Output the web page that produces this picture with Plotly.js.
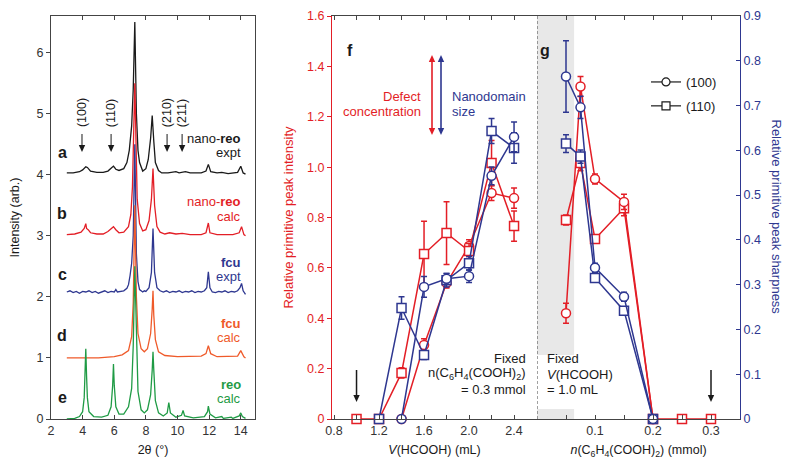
<!DOCTYPE html>
<html><head><meta charset="utf-8">
<script src="https://cdn.plot.ly/plotly-3.0.1.min.js"></script>
<style>body{margin:0;background:#fff}#chart{width:800px;height:468px}</style>
</head><body><div id="chart"></div>
<script>
// ---------- Panel a-e: PXRD patterns (2theta, intensity) ----------
const xrdA_x = [3.0,3.4,3.8,4.0,4.2,4.3,4.5,4.9,5.3,5.6,5.85,5.95,6.1,6.3,6.6,6.8,6.95,7.1,7.2,7.3,7.4,7.5,7.6,7.8,8.0,8.15,8.3,8.4,8.5,8.6,8.8,9.0,9.4,9.9,10.1,10.5,10.8,11.5,11.8,11.95,12.1,12.5,12.8,13.2,13.8,14.0,14.15,14.3];
const xrdA_y = [4.03,4.03,4.05,4.08,4.13,4.12,4.06,4.04,4.04,4.06,4.12,4.14,4.09,4.07,4.10,4.20,4.40,4.80,5.40,6.50,5.00,4.40,4.20,4.06,4.10,4.25,4.60,4.97,4.55,4.20,4.07,4.03,4.03,4.05,4.03,4.05,4.03,4.03,4.06,4.17,4.05,4.03,4.04,4.02,4.04,4.14,4.03,4.01];

const xrdB_x = [3.0,3.5,3.9,4.1,4.2,4.25,4.35,4.5,4.9,5.3,5.6,5.8,5.95,6.1,6.3,6.6,6.9,7.05,7.15,7.3,7.45,7.6,7.8,8.0,8.2,8.35,8.45,8.55,8.7,8.9,9.2,9.5,9.9,10.3,10.8,11.5,11.8,11.95,12.05,12.5,13.5,13.9,14.05,14.2,14.3];
const xrdB_y = [3.02,3.03,3.06,3.12,3.20,3.12,3.10,3.05,3.03,3.03,3.07,3.12,3.15,3.10,3.05,3.06,3.15,3.35,3.80,5.50,3.60,3.20,3.08,3.10,3.25,3.60,4.10,3.50,3.15,3.06,3.03,3.05,3.03,3.04,3.02,3.02,3.05,3.21,3.05,3.02,3.02,3.05,3.15,3.02,3.00];

const xrdC_x = [3.0,3.2,3.4,3.6,3.8,4.0,4.2,4.4,4.6,4.8,5.0,5.2,5.4,5.6,5.8,6.0,6.1,6.2,6.4,6.6,6.8,6.9,7.0,7.1,7.2,7.3,7.4,7.5,7.6,7.7,7.8,7.9,8.0,8.2,8.35,8.45,8.55,8.7,8.9,9.1,9.3,9.5,9.7,9.9,10.1,10.3,10.5,10.7,10.9,11.1,11.3,11.5,11.7,11.85,11.95,12.05,12.2,12.4,12.6,12.8,13.0,13.2,13.4,13.6,13.8,13.95,14.05,14.15,14.25,14.3];
const xrdC_y = [2.08,2.10,2.07,2.09,2.06,2.09,2.08,2.10,2.07,2.09,2.06,2.08,2.10,2.07,2.09,2.08,2.12,2.08,2.09,2.10,2.14,2.20,2.35,2.55,3.00,4.50,2.70,2.25,2.12,2.10,2.08,2.10,2.09,2.15,2.40,3.12,2.40,2.15,2.10,2.08,2.10,2.07,2.09,2.08,2.10,2.07,2.09,2.08,2.10,2.07,2.09,2.08,2.10,2.15,2.41,2.15,2.08,2.07,2.09,2.08,2.10,2.07,2.09,2.08,2.10,2.15,2.22,2.10,2.05,2.04];

const xrdD_x = [3.0,5.0,6.0,6.5,6.9,7.1,7.2,7.3,7.4,7.5,7.7,7.9,8.1,8.3,8.4,8.45,8.5,8.6,8.8,9.2,10.0,11.5,11.8,11.95,12.1,12.5,13.8,14.0,14.2,14.3];
const xrdD_y = [1.00,1.00,1.02,1.05,1.12,1.35,1.90,3.50,2.00,1.40,1.15,1.10,1.15,1.40,1.80,2.10,1.70,1.30,1.10,1.04,1.02,1.03,1.07,1.20,1.07,1.02,1.03,1.12,1.02,1.00];

const xrdE_x = [3.0,3.5,3.8,4.0,4.1,4.15,4.2,4.25,4.3,4.4,4.7,5.2,5.6,5.8,5.9,5.95,6.0,6.1,6.3,6.6,6.9,7.1,7.2,7.3,7.4,7.5,7.7,7.9,8.1,8.3,8.4,8.45,8.5,8.6,8.8,9.1,9.35,9.45,9.55,9.9,10.25,10.35,10.45,11.0,11.7,11.9,11.95,12.05,12.4,12.8,12.9,13.4,13.5,13.9,14.0,14.1,14.3];
const xrdE_y = [0.00,0.01,0.04,0.12,0.35,0.70,1.15,0.70,0.35,0.12,0.04,0.03,0.06,0.20,0.55,0.90,0.55,0.20,0.08,0.08,0.20,0.50,1.20,2.50,1.20,0.45,0.15,0.10,0.15,0.40,0.80,1.10,0.80,0.30,0.10,0.05,0.10,0.27,0.10,0.03,0.06,0.14,0.05,0.02,0.04,0.12,0.21,0.08,0.02,0.04,0.01,0.03,0.01,0.05,0.10,0.04,0.01];

const xrdTickVals = [2,4,6,8,10,12,14];
const intTickVals = [0,1,2,3,4,5,6];
const peakLabels = ["(100)","(110)","(210)","(211)"];
const peakPos = [3.96,5.8,9.34,10.29];

// ---------- Panel f: vs V(HCOOH) ----------
const fSqRed_x = [1.0,1.2,1.4,1.6,1.8,2.0,2.2,2.4];
const fSqRed_y = [0,0,0.183,0.655,0.738,0.667,1.016,0.766];
const fSqRed_e = [0,0,0.02,0.13,0.125,0.03,0.09,0.06];
const fCiRed_x = [1.4,1.6,1.8,2.0,2.2,2.4];
const fCiRed_y = [0,0.294,0.54,0.687,0.897,0.877];
const fCiRed_e = [0,0.025,0.02,0.025,0.03,0.04];
const fSqBlue_x = [1.2,1.4,1.6,1.8,2.0,2.2,2.4];
const fSqBlue_y = [0,0.248,0.143,0.31,0.348,0.643,0.605];
const fSqBlue_e = [0,0.025,0.01,0.015,0.015,0.028,0.034];
const fCiBlue_x = [1.4,1.6,1.8,2.0,2.2,2.4];
const fCiBlue_y = [0,0.295,0.313,0.319,0.543,0.63];
const fCiBlue_e = [0,0.023,0.012,0.014,0.02,0.033];

// ---------- Panel g: vs n(C6H4(COOH)2) ----------
const gCiRed_x = [0.05,0.075,0.1,0.15,0.2];
const gCiRed_y = [0.42,1.32,0.953,0.862,0];
const gCiRed_e = [0.04,0.04,0.02,0.03,0];
const gSqRed_x = [0.05,0.075,0.1,0.15,0.2,0.25,0.3];
const gSqRed_y = [0.79,1.016,0.715,0.837,0,0,0];
const gSqRed_e = [0.02,0.03,0,0.03,0,0,0];
const gCiBlue_x = [0.05,0.075,0.1,0.15,0.2];
const gCiBlue_y = [0.765,0.696,0.338,0.273,0];
const gCiBlue_e = [0.08,0.025,0.01,0.01,0];
const gSqBlue_x = [0.05,0.075,0.1,0.15,0.2];
const gSqBlue_y = [0.615,0.586,0.315,0.242,0];
const gSqBlue_e = [0.02,0.015,0,0,0];

const fTickVals = [0.8,1.2,1.6,2.0,2.4];
const fTickText = ["0.8","1.2","1.6","2.0","2.4"];
const fMinorVals = [1.0,1.4,1.8,2.2];
const gTickVals = [0.1,0.2,0.3];
const gTickText = ["0.1","0.2","0.3"];
const gMinorVals = [0.05,0.15,0.25];
const leftTickVals = [0,0.2,0.4,0.6,0.8,1.0,1.2,1.4,1.6];
const leftTickText = ["0","0.2","0.4","0.6","0.8","1.0","1.2","1.4","1.6"];
const rightTickVals = [0,0.1,0.2,0.3,0.4,0.5,0.6,0.7,0.8,0.9];
const rightTickText = ["0","0.1","0.2","0.3","0.4","0.5","0.6","0.7","0.8","0.9"];

const RED = '#e31e26', NAVY = '#2e3790', ORANGE = '#ef5a2a', GREEN = '#1f9b45', BLACK = '#1a1a1a';
const FONT = 'Liberation Sans, Arial, Helvetica, sans-serif';

function spec(x, y, c) {
  return {x, y, type:'scatter', mode:'lines', line:{color:c, width:1.3}, xaxis:'x', yaxis:'y', showlegend:false, hoverinfo:'skip'};
}
function pts(x, y, e, color, sym, xa, ya) {
  return {x, y, type:'scatter', mode:'lines+markers', xaxis:xa, yaxis:ya, showlegend:false, cliponaxis:false,
    line:{color, width:1.5},
    marker:{symbol:sym, size:9, color:'white', line:{color, width:1.5}},
    error_y:{type:'data', array:e, visible:true, color, thickness:1.5, width:3}};
}

const traces = [
  spec(xrdA_x, xrdA_y, BLACK),
  spec(xrdB_x, xrdB_y, RED),
  spec(xrdC_x, xrdC_y, NAVY),
  spec(xrdD_x, xrdD_y, ORANGE),
  spec(xrdE_x, xrdE_y, GREEN),
  pts(fSqBlue_x, fSqBlue_y, fSqBlue_e, NAVY, 'square', 'x2', 'y3'),
  pts(fCiBlue_x, fCiBlue_y, fCiBlue_e, NAVY, 'circle', 'x2', 'y3'),
  pts(fCiRed_x, fCiRed_y, fCiRed_e, RED, 'circle', 'x2', 'y2'),
  pts(fSqRed_x, fSqRed_y, fSqRed_e, RED, 'square', 'x2', 'y2'),
  pts(gSqRed_x, gSqRed_y, gSqRed_e, RED, 'square', 'x3', 'y2'),
  pts(gCiRed_x, gCiRed_y, gCiRed_e, RED, 'circle', 'x3', 'y2'),
  pts(gSqBlue_x, gSqBlue_y, gSqBlue_e, NAVY, 'square', 'x3', 'y3'),
  pts(gCiBlue_x, gCiBlue_y, gCiBlue_e, NAVY, 'circle', 'x3', 'y3'),
  {x:[null], y:[null], type:'scatter', mode:'lines+markers', name:'(100)', xaxis:'x3', yaxis:'y2', legendgroup:'a',
   line:{color:BLACK, width:1.2}, marker:{symbol:'circle', size:8, color:'white', line:{color:BLACK, width:1.2}}},
  {x:[null], y:[null], type:'scatter', mode:'lines+markers', name:'(110)', xaxis:'x3', yaxis:'y2', legendgroup:'b',
   line:{color:BLACK, width:1.2}, marker:{symbol:'square', size:8, color:'white', line:{color:BLACK, width:1.2}}}
];

const P = (px) => px/800, Q = (py) => 1 - py/468;
const ann = [];
function txt(x, y, text, o) { ann.push(Object.assign({x, y, text, showarrow:false, font:{family:FONT, size:13, color:BLACK}}, o||{})); }

// arrows as shapes (pixel positions converted to paper coords)
const shapes = [];
function head(px, py, dir, color) { // dir +1 = pointing down, -1 = pointing up
  const w = 3.2, h = 7;
  shapes.push({type:'path', xref:'paper', yref:'paper', line:{width:0}, fillcolor:color,
    path:`M ${P(px-w)} ${Q(py-dir*h)} L ${P(px+w)} ${Q(py-dir*h)} L ${P(px)} ${Q(py)} Z`});
}
function vline(px, py0, py1, color, width) {
  shapes.push({type:'line', xref:'paper', yref:'paper', x0:P(px), x1:P(px), y0:Q(py0), y1:Q(py1), line:{color, width}});
}
function arrowDown(px, pyTail, pyHead, color, width) { vline(px, pyTail, pyHead-5, color, width); head(px, pyHead, 1, color); }
function arrowBoth(px, pyTop, pyBot, color, width) { vline(px, pyTop+5, pyBot-5, color, width); head(px, pyTop, -1, color); head(px, pyBot, 1, color); }

// left panel labels
const letters = [['a',4.37],['b',3.37],['c',2.36],['d',1.36],['e',0.36]];
letters.forEach(l => txt(2.7, l[1], '<b>'+l[0]+'</b>', {xref:'x', yref:'y', font:{family:FONT, size:16, color:BLACK}}));
const nameLines = [
  ['nano-<b>reo</b>',4.60,BLACK],['expt',4.36,BLACK],
  ['nano-<b>reo</b>',3.57,RED],['calc',3.32,RED],
  ['<b>fcu</b>',2.57,NAVY],['expt',2.33,NAVY],
  ['<b>fcu</b>',1.57,ORANGE],['calc',1.33,ORANGE],
  ['<b>reo</b>',0.57,GREEN],['calc',0.33,GREEN]];
nameLines.forEach(n => txt(14.14, n[1], n[0], {xref:'x', yref:'y', xanchor:'right', font:{family:FONT, size:13, color:n[2]}}));
peakLabels.forEach((t,i) => {
  txt(peakPos[i], 5.01, t, {xref:'x', yref:'y', textangle:-90, font:{family:FONT, size:12.5, color:BLACK}});
  arrowDown(51 + (peakPos[i]-2)*204/12.9, 134, 152, BLACK, 1);
});

// panel f/g labels
txt(P(350), Q(40), '<b>f</b>', {xref:'paper', yref:'paper', font:{family:FONT, size:16, color:BLACK}});
txt(P(552), Q(40), '<b>g</b>', {xref:'paper', yref:'paper', font:{family:FONT, size:16, color:BLACK}});
txt(P(423), Q(87), 'Defect', {xref:'paper', yref:'paper', xanchor:'right', font:{family:FONT, size:13, color:RED}});
txt(P(423), Q(102), 'concentration', {xref:'paper', yref:'paper', xanchor:'right', font:{family:FONT, size:13, color:RED}});
txt(P(450), Q(87), 'Nanodomain', {xref:'paper', yref:'paper', xanchor:'left', font:{family:FONT, size:13, color:NAVY}});
txt(P(450), Q(102), 'size', {xref:'paper', yref:'paper', xanchor:'left', font:{family:FONT, size:13, color:NAVY}});
arrowBoth(432, 55, 135, RED, 1.6);
arrowBoth(441, 55, 135, NAVY, 1.6);
arrowDown(300 + (1.0-0.782)*205/1.822 + 32, 370, 402, BLACK, 1.5);
arrowDown(537 + 0.3*203/0.35, 370, 402, BLACK, 1.5);
txt(P(528), Q(368), 'Fixed', {xref:'paper', yref:'paper', xanchor:'right'});
txt(P(528), Q(384), 'n(C<sub>6</sub>H<sub>4</sub>(COOH)<sub>2</sub>)', {xref:'paper', yref:'paper', xanchor:'right'});
txt(P(528), Q(399), '= 0.3 mmol', {xref:'paper', yref:'paper', xanchor:'right'});
txt(P(545), Q(368), 'Fixed', {xref:'paper', yref:'paper', xanchor:'left'});
txt(P(545), Q(384), '<i>V</i>(HCOOH)', {xref:'paper', yref:'paper', xanchor:'left'});
txt(P(545), Q(399), '= 1.0 mL', {xref:'paper', yref:'paper', xanchor:'left'});
txt(P(786), Q(217), 'Relative primitive peak sharpness', {xref:'paper', yref:'paper', textangle:90, font:{family:FONT, size:13, color:NAVY}});

shapes.push(
  {type:'rect', xref:'x3', yref:'y2', x0:0, x1:0.064, y0:0.254, y1:1.6, fillcolor:'#e8e8e8', line:{width:0}, layer:'below'},
  {type:'rect', xref:'x3', yref:'y2', x0:0, x1:0.064, y0:0, y1:0.04, fillcolor:'#e8e8e8', line:{width:0}, layer:'below'},
  {type:'line', xref:'x3', yref:'y2', x0:0, x1:0, y0:0, y1:1.6, line:{color:'#444', width:1, dash:'3px,2px'}}
);

const yDom = [49/468, 452/468];
const tickF = {family:FONT, size:12.5, color:'#333'};
const layout = {
  width:800, height:468, margin:{l:0,r:0,t:0,b:0},
  paper_bgcolor:'white', plot_bgcolor:'rgba(0,0,0,0)',
  font:{family:FONT, size:12.5, color:BLACK},
  showlegend:true,
  legend:{x:P(646), y:Q(67), xanchor:'left', yanchor:'top', bgcolor:'rgba(0,0,0,0)', font:{family:FONT, size:13, color:BLACK}, tracegroupgap:4, traceorder:'grouped'},
  xaxis:{domain:[51/800, 255/800], range:[2,14.9], anchor:'y', showline:true, linecolor:'#444', linewidth:1, mirror:'ticks',
    ticks:'inside', ticklen:4, tickcolor:'#444', tickvals:xrdTickVals, tickfont:tickF, showgrid:false, zeroline:false,
    title:{text:'2θ (°)', font:{family:FONT, size:12.5, color:BLACK}, standoff:8}},
  yaxis:{domain:yDom, range:[0,6.6], anchor:'x', showline:true, linecolor:'#444', linewidth:1, mirror:true,
    ticks:'outside', ticklen:4, tickcolor:'#444', tickvals:intTickVals, tickfont:tickF, showgrid:false, zeroline:false,
    title:{text:'Intensity (arb.)', font:{family:FONT, size:12.5, color:BLACK}, standoff:14}},
  yaxis4:{domain:yDom, range:[0,6.6], anchor:'x', overlaying:'y', side:'right', showline:false, ticks:'inside', ticklen:4,
    tickcolor:'#444', tickvals:intTickVals, showticklabels:false, showgrid:false, zeroline:false},
  xaxis2:{domain:[332/800, 537/800], range:[0.782,2.604], anchor:'y2', showline:true, linecolor:'#444', linewidth:1, mirror:'ticks',
    ticks:'inside', ticklen:4, tickcolor:'#444', tickvals:fTickVals, ticktext:fTickText, tickfont:tickF,
    minor:{tickvals:fMinorVals, ticks:'inside', ticklen:4, tickcolor:'#444'}, showgrid:false, zeroline:false,
    title:{text:'<i>V</i>(HCOOH) (mL)', font:{family:FONT, size:12.5, color:BLACK}, standoff:8}},
  xaxis3:{domain:[537/800, 740/800], range:[0,0.35], anchor:'y2', showline:true, linecolor:'#444', linewidth:1, mirror:'ticks',
    ticks:'inside', ticklen:4, tickcolor:'#444', tickvals:gTickVals, ticktext:gTickText, tickfont:tickF,
    minor:{tickvals:gMinorVals, ticks:'inside', ticklen:4, tickcolor:'#444'}, showgrid:false, zeroline:false,
    title:{text:'<i>n</i>(C<sub>6</sub>H<sub>4</sub>(COOH)<sub>2</sub>) (mmol)', font:{family:FONT, size:12.5, color:BLACK}, standoff:8}},
  yaxis2:{domain:yDom, range:[0,1.6], anchor:'x2', showline:true, linecolor:RED, linewidth:1, ticks:'outside', ticklen:4, tickcolor:RED,
    tickvals:leftTickVals, ticktext:leftTickText, tickfont:{family:FONT, size:12.5, color:RED}, showgrid:false, zeroline:false,
    title:{text:'Relative primitive peak intensity', font:{family:FONT, size:13, color:RED}, standoff:10}},
  yaxis3:{domain:yDom, range:[0,0.9], anchor:'x3', overlaying:'y2', side:'right', showline:true, linecolor:NAVY, linewidth:1,
    ticks:'inside', ticklen:4, tickcolor:NAVY, tickvals:rightTickVals, ticktext:rightTickText,
    tickfont:{family:FONT, size:12.5, color:NAVY}, showgrid:false, zeroline:false},
  shapes:shapes,
  annotations:ann
};
Plotly.newPlot('chart', traces, layout, {displayModeBar:false, staticPlot:true});
</script></body></html>
